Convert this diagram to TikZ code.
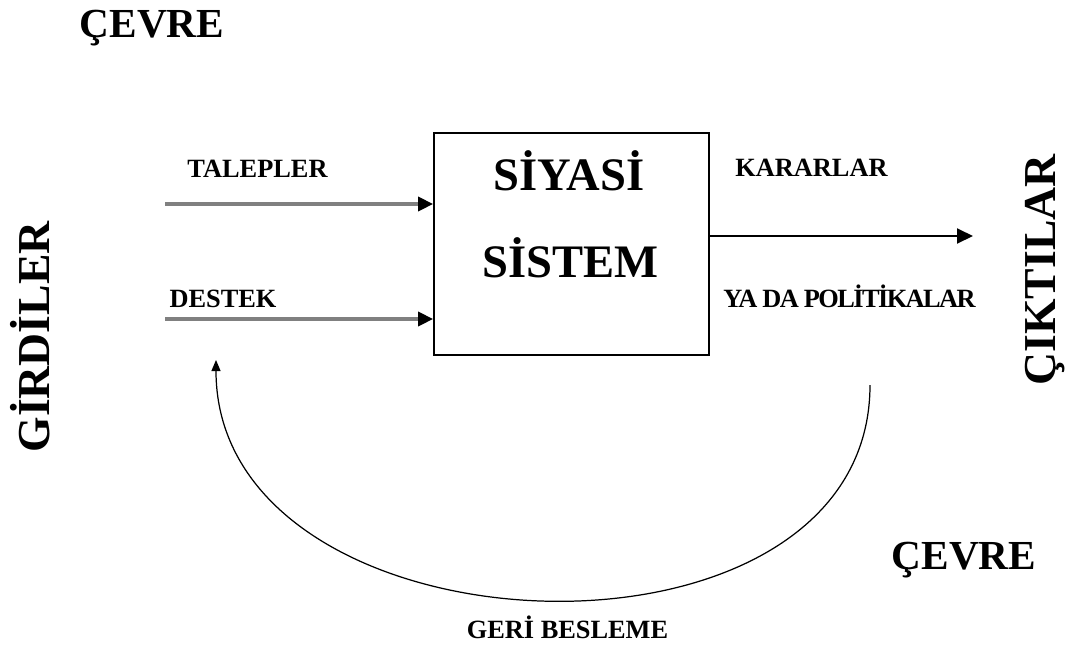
\documentclass[tikz,border=0pt]{standalone}
\usepackage{fontspec}
\setmainfont{Liberation Serif}
\newfontfamily\tightfont[LetterSpace=-6]{Liberation Serif}
\usetikzlibrary{arrows.meta}

\begin{document}
\begin{tikzpicture}
\tikzset{LabelStyle/.style = {font= \bfseries\fontsize{15}{18}\selectfont, inner sep= 0pt, anchor= base},
  EnvStyle/.style = {font= \bfseries\fontsize{23.5}{28}\selectfont, inner sep= 0pt, anchor= base},
  SideStyle/.style = {font= \bfseries\fontsize{26}{30}\selectfont, inner sep= 0pt, rotate= 90},
  TitleStyle/.style = {font= \bfseries\fontsize{26.5}{32}\selectfont, inner sep= 0pt, anchor= base},
  BoxStyle/.style = {draw, line width= 1pt, minimum width= 5.5cm, minimum height= 4.44cm},
  InputStyle/.style = {-{Triangle[length= 3mm, width= 2.8mm, color= black]}, line width= 2pt, black!50},
  OutputStyle/.style = {-{Triangle[length= 3.2mm, width= 3mm]}, line width= 1.1pt},
  FeedbackStyle/.style = {-{Triangle[length= 2.2mm, width= 1.8mm]}, line width= 0.7pt}
}

    \useasboundingbox (0,0) rectangle (21.5,-12.9);

    % Environment labels
    \node[EnvStyle] (cevretop) at (3.04,-0.74) {ÇEVRE};
    \node[EnvStyle] (cevrebot) at (19.28,-11.38) {ÇEVRE};

    % Political system
    \node[BoxStyle] (sistem) at (11.43,-4.88) {};
    \node[TitleStyle] (siyasi) at (11.38,-3.8) {SİYASİ};
    \node[TitleStyle] (sistemtxt) at (11.41,-5.54) {SİSTEM};

    % Inputs
    \node[SideStyle] (girdiler) at (0.6,-6.74) {GİRDİLER};
    \node[LabelStyle] (talepler) at (5.15,-3.54) {TALEPLER};
    \node[LabelStyle] (destek) at (4.46,-6.14) {DESTEK};
    \coordinate (talepin) at (3.3,-4.08);
    \coordinate (destekin) at (3.3,-6.38);
    \draw[InputStyle] (talepin) -- (talepin -| sistem.west);
    \draw[InputStyle] (destekin) -- (destekin -| sistem.west);

    % Outputs
    \node[SideStyle] (ciktilar) at (20.9,-5.4) {ÇIKTILAR};
    \node[LabelStyle] (kararlar) at (16.23,-3.52) {KARARLAR};
    \node[LabelStyle, font= \bfseries\tightfont\fontsize{15}{18}\selectfont] (politika) at (16.99,-6.14) {YA DA POLİTİKALAR};
    \coordinate (kararout) at (19.46,-4.72);
    \draw[OutputStyle] (kararout -| sistem.east) -- (kararout);

    % Feedback
    \coordinate (geristart) at (17.4,-7.7);
    \coordinate (geriend) at (4.32,-7.2);
    \draw[FeedbackStyle] (geristart) .. controls +(0,-6.06) and +(0,-6.06) .. (geriend);
    \node[LabelStyle] (geri) at (11.35,-12.76) {GERİ BESLEME};
\end{tikzpicture}
\end{document}
